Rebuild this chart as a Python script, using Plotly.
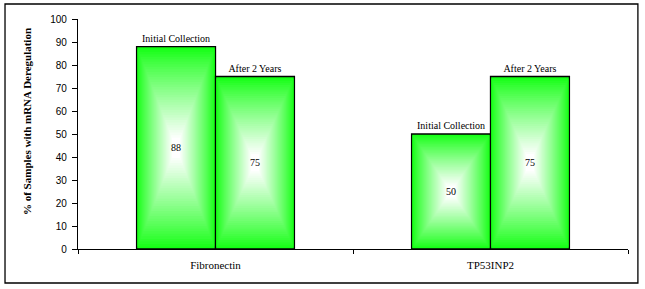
import plotly.graph_objects as go

categories = ["Fibronectin", "TP53INP2"]
initial_collection = [88, 50]
after_2_years = [75, 75]
series_names = ["Initial Collection", "After 2 Years"]
y_ticks = [0, 10, 20, 30, 40, 50, 60, 70, 80, 90, 100]
y_title = "% of Samples with mRNA Deregulation"

BAR_W = 0.287
offsets = [-0.287, 0.0]
N = 40
edge = (20, 255, 20)

fig = go.Figure()

for s, (name, vals) in enumerate(zip(series_names, [initial_collection, after_2_years])):
    off = offsets[s]
    for k in range(N):
        t = k / N
        f = min(1.0, t ** 0.9 * 1.1)
        col = tuple(int(round(c + (255 - c) * f)) for c in edge)
        w = BAR_W * (1 - t)
        fig.add_trace(go.Bar(
            x=categories,
            y=[v * (1 - t) for v in vals],
            base=[v * t / 2 for v in vals],
            width=w,
            offset=off + BAR_W * t / 2,
            marker=dict(color="rgb(%d,%d,%d)" % col,
                        line=dict(color="black", width=1.3 if k == 0 else 0)),
            text=[name] * len(vals) if k == 0 else None,
            textposition="outside" if k == 0 else "none",
            textfont=dict(family="Liberation Serif", size=10, color="black"),
            cliponaxis=False,
            showlegend=False,
            hoverinfo="skip",
        ))
    # value labels
    fig.add_trace(go.Bar(
        x=categories,
        y=vals,
        width=BAR_W,
        offset=off,
        marker=dict(color="rgba(0,0,0,0)", line=dict(width=0)),
        text=[str(v) for v in vals],
        textposition="inside",
        insidetextanchor="middle",
        textangle=0,
        textfont=dict(family="Liberation Serif", size=10, color="black"),
        showlegend=False,
        hoverinfo="skip",
    ))

fig.update_layout(
    width=645, height=289,
    barmode="overlay",
    plot_bgcolor="white", paper_bgcolor="white",
    margin=dict(l=78, r=17, t=19, b=40, autoexpand=False),
    showlegend=False,
    shapes=[dict(type="rect", xref="paper", yref="paper",
                 x0=-0.1327, x1=1.018, y0=-0.1478, y1=1.0652,
                 line=dict(color="black", width=1.3), fillcolor="rgba(0,0,0,0)", layer="below")],
    annotations=[dict(text="<b>" + y_title + "</b>", xref="paper", yref="paper",
                      x=-0.0927, y=0.552, textangle=-90, showarrow=False,
                      xanchor="center", yanchor="middle",
                      font=dict(family="Liberation Serif", size=11, color="black"))],
)
fig.update_xaxes(
    type="category", automargin=False,
    showline=True, linecolor="black", linewidth=1.3,
    ticks="outside", tickson="boundaries", ticklen=4, tickcolor="black", tickwidth=1,
    showgrid=False, zeroline=False,
    tickfont=dict(family="Liberation Serif", size=11, color="black"),
    ticklabelstandoff=6,
)
fig.update_yaxes(
    range=[0, 100], tickvals=y_ticks, automargin=False,
    showline=True, linecolor="black", linewidth=1.3,
    ticks="outside", ticklen=5, tickcolor="black", tickwidth=1,
    showgrid=False, zeroline=False,
    tickfont=dict(family="Liberation Sans", size=10, color="black"),
    ticklabelstandoff=3,
)

fig.write_html("out.html", config={"displayModeBar": False},
               post_script="document.body.style.margin='0';document.body.style.overflow='hidden';")
